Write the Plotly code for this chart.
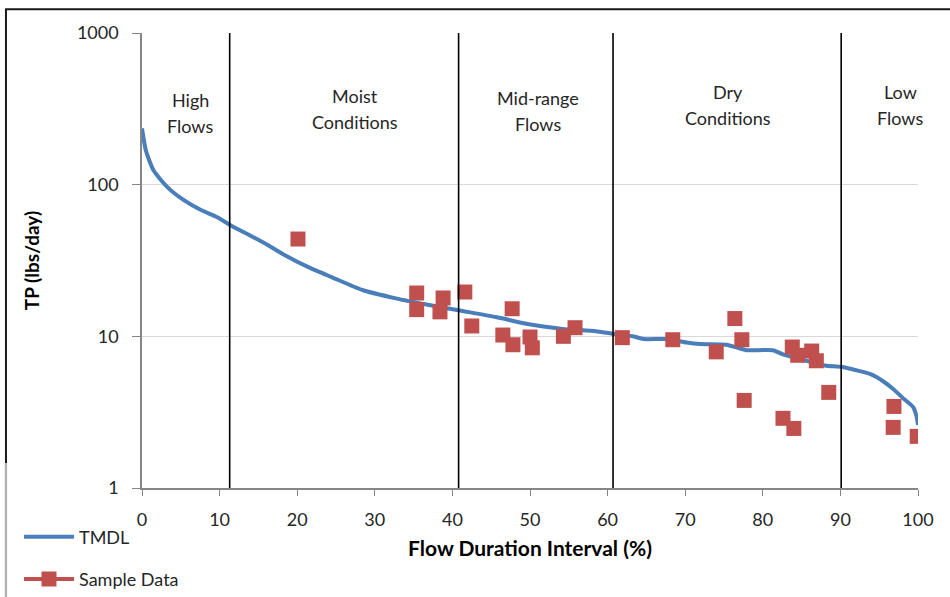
import math
import plotly.graph_objects as go

# ---- data ----
tmdl_x = [0, 0.5, 1.5, 3.3, 5.4, 7.6, 9.7, 11.4, 14.0, 16.2, 18.3, 21.3, 24.5, 28.4,
          32.7, 37.0, 41.3, 45.6, 49.9, 54.2, 58.5, 60.6, 63.3, 64.6, 67.6, 70.2,
          71.9, 75.3, 77.1, 77.9, 81.3, 82.6, 86.1, 88.2, 90.1, 92.5, 93.8, 95.5,
          96.8, 98.1, 99.4, 99.8, 100]
tmdl_y = [235, 168, 124, 96, 79, 68, 61, 54, 46, 40, 34.5, 28.8, 24.5, 20.2,
          17.8, 16.1, 14.7, 13.4, 12.0, 11.2, 10.8, 10.4, 10.0, 9.6, 9.6, 9.1,
          8.9, 8.8, 8.3, 8.1, 8.1, 7.6, 6.8, 6.4, 6.3, 5.9, 5.65, 5.06,
          4.5, 3.9, 3.4, 2.98, 2.6]

sample_x = [20.1, 35.4, 35.4, 38.8, 38.4, 41.6, 42.5, 46.5, 47.7, 47.8, 50.0, 50.3,
            54.3, 55.8, 61.9, 68.4, 74.0, 76.4, 77.3, 77.6, 82.6, 83.8, 84.0, 84.5,
            86.3, 86.9, 88.5, 96.8, 96.9, 99.9]
sample_y = [43.8, 19.3, 15.0, 17.9, 14.5, 19.6, 11.7, 10.2, 15.2, 8.8, 9.9, 8.4,
            10.0, 11.4, 9.8, 9.5, 7.9, 13.1, 9.5, 3.78, 2.88, 8.5, 2.47, 7.5,
            8.0, 6.9, 4.27, 2.51, 3.45, 2.19]

zone_bounds = [11.3, 40.8, 60.7, 90.1]
zone_line1 = ["High", "Moist", "Mid-range", "Dry", "Low"]
zone_line2 = ["Flows", "Conditions", "Flows", "Conditions", "Flows"]
zone_label_x = [6.2, 27.5, 51.0, 75.5, 97.7]
zone_label_y = [295, 315, 305, 335, 335]

x_ticks = list(range(0, 101, 10))
y_ticks = [1, 10, 100, 1000]
y_ticktext = ["1", "10", "100", "1000"]

FONT = "Lato"
TXT = "#262626"
AX = "#868686"
BLUE = "#4A7EBB"
RED = "#C0504D"

fig = go.Figure()
fig.add_trace(go.Scatter(
    x=tmdl_x, y=tmdl_y, mode="lines", name="TMDL", legendgroup="a",
    line=dict(color=BLUE, width=4, shape="spline", smoothing=0.6)))
fig.add_trace(go.Scatter(
    x=sample_x, y=sample_y, mode="markers", name="Sample Data", legendgroup="b",
    showlegend=False, marker=dict(symbol="square", size=15, color=RED)))
# legend entry styled like the original (line with square marker)
fig.add_trace(go.Scatter(
    x=[None], y=[None], mode="lines+markers", name="Sample Data", legendgroup="b",
    line=dict(color=RED, width=4), marker=dict(symbol="square", size=15, color=RED)))

shapes = []
for b in zone_bounds:
    shapes.append(dict(type="line", xref="x", yref="paper", x0=b, x1=b, y0=0, y1=1,
                       line=dict(color="black", width=1.6), layer="above"))
# outer frame of the original chart (only top and left edges fall inside the view)
shapes.append(dict(type="rect", xref="paper", yref="paper", x0=-0.1753, x1=1.06,
                   y0=-0.3, y1=1.052, line=dict(color="#1a1a1a", width=2),
                   fillcolor="rgba(0,0,0,0)", layer="above"))
shapes.append(dict(type="line", xref="paper", yref="paper", x0=-0.1753, x1=-0.1753,
                   y0=0.055, y1=-0.3, line=dict(color="#b0b0b0", width=2.2),
                   layer="above"))

annotations = []
for l1, l2, zx, zy in zip(zone_line1, zone_line2, zone_label_x, zone_label_y):
    annotations.append(dict(x=zx, y=math.log10(zy), xref="x", yref="y", text=l1,
                            showarrow=False, yshift=13,
                            font=dict(family=FONT, size=18, color=TXT)))
    annotations.append(dict(x=zx, y=math.log10(zy), xref="x", yref="y", text=l2,
                            showarrow=False, yshift=-13,
                            font=dict(family=FONT, size=18, color=TXT)))

fig.update_layout(
    width=950, height=597,
    margin=dict(l=142, r=32, t=33, b=109, autoexpand=False),
    paper_bgcolor="white", plot_bgcolor="white",
    font=dict(family=FONT, size=18, color=TXT),
    showlegend=True,
    legend=dict(x=-0.1585, xanchor="left", y=-0.067, yanchor="top",
                orientation="v", tracegroupgap=16, traceorder="grouped",
                itemwidth=50,
                font=dict(family=FONT, size=18, color=TXT),
                bgcolor="rgba(0,0,0,0)"),
    shapes=shapes, annotations=annotations,
)
fig.update_xaxes(
    range=[0, 100], tickvals=x_ticks, ticks="outside", ticklen=6, tickcolor=AX,
    showline=True, linecolor=AX, linewidth=1.5, showgrid=False, zeroline=False,
    ticklabelstandoff=9, tickfont=dict(family=FONT, size=18, color=TXT),
    automargin=False,
    title=dict(text="<b>Flow Duration Interval (%)</b>", standoff=12,
               font=dict(family=FONT, size=21, color="black")))
fig.update_yaxes(
    type="log", range=[0, 3], tickvals=y_ticks, ticktext=y_ticktext,
    ticks="outside", ticklen=8, tickcolor=AX,
    showline=True, linecolor=AX, linewidth=1.5,
    showgrid=True, gridcolor="#D9D9D9", gridwidth=1.2, zeroline=False,
    ticklabelstandoff=10, tickfont=dict(family=FONT, size=18, color=TXT),
    automargin=False,
    title=dict(text="<b>TP (lbs/day)</b>", standoff=32,
               font=dict(family=FONT, size=19, color="black")))

fig.write_html("out.html")
